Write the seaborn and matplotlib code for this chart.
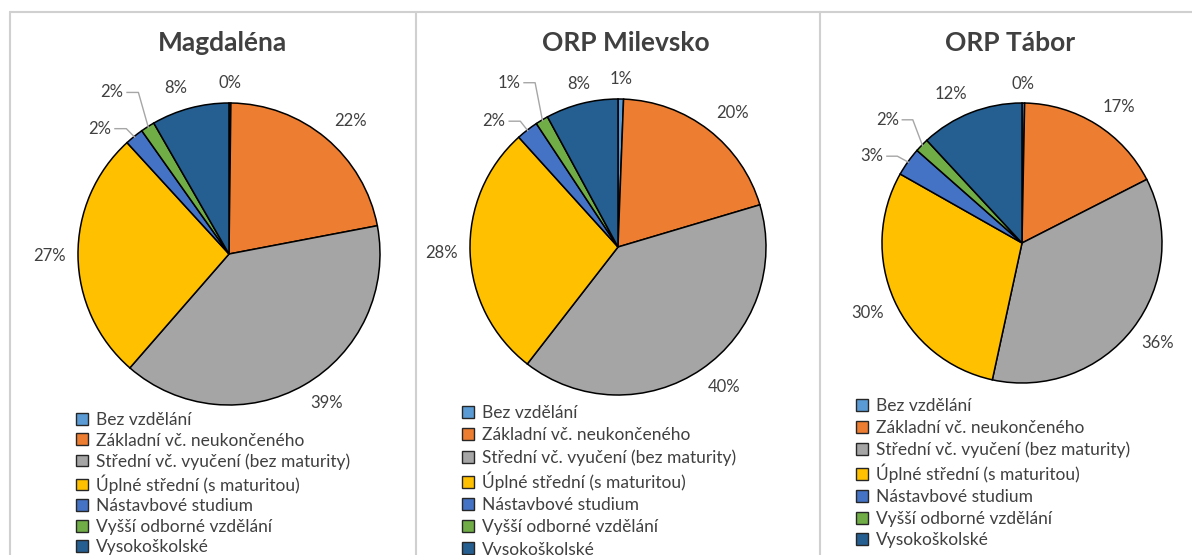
import numpy as np
import matplotlib
matplotlib.use("Agg")
import matplotlib.pyplot as plt
import seaborn as sns
from matplotlib.patches import Patch
from matplotlib.lines import Line2D

# data (percent of population by education)
categories = [
    "Bez vzdělání",
    "Základní vč. neukončeného",
    "Střední vč. vyučení (bez maturity)",
    "Úplné střední (s maturitou)",
    "Nástavbové studium",
    "Vyšší odborné vzdělání",
    "Vysokoškolské",
]
regions = ["Magdaléna", "ORP Milevsko", "ORP Tábor"]
magdalena = [0.2, 21.8, 39.4, 26.8, 2.0, 1.5, 8.3]
milevsko = [0.6, 19.8, 40.1, 27.8, 2.4, 1.4, 7.9]
tabor = [0.3, 17.2, 35.9, 29.8, 3.3, 1.6, 11.9]
series = [magdalena, milevsko, tabor]

colors = ["#5B9BD5", "#ED7D31", "#A5A5A5", "#FFC000", "#4472C4", "#70AD47", "#255E91"]
text_col = "#404040"

sns.set_theme(style="white")
plt.rcParams["font.family"] = ["Lato", "DejaVu Sans"]

W, H = 1192, 555
fig = plt.figure(figsize=(W / 100, H / 100), dpi=100)

# layout in pixels: pie centre, radius, title x, legend corner
layout = [
    dict(cx=229, cy=254, r=151, tx=222, lx=76, ly=412, sp=0.26),
    dict(cx=618, cy=247, r=148, tx=626, lx=462, ly=405, sp=0.35),
    dict(cx=1022, cy=243, r=140, tx=1010, lx=856, ly=398, sp=0.33),
]
# small slices labelled with a leader line: index -> text right end (radius units)
callouts = [
    {4: (-0.78, 0.83), 5: (-0.70, 1.07)},
    {4: (-0.76, 0.85), 5: (-0.66, 1.11)},
    {4: (-0.99, 0.62), 5: (-0.88, 0.88)},
]

pad = 1.5
for vals, name, lay, calls in zip(series, regions, layout, callouts):
    cx, cy, r = lay["cx"], lay["cy"], lay["r"]
    ax = fig.add_axes([(cx - pad * r) / W, (H - cy - pad * r) / H,
                       2 * pad * r / W, 2 * pad * r / H])
    ax.pie(vals, colors=colors, startangle=90, counterclock=False,
           wedgeprops=dict(edgecolor="black", linewidth=1.1))
    ax.set_xlim(-pad, pad)
    ax.set_ylim(-pad, pad)
    ax.axis("off")

    total = sum(vals)
    cum = np.cumsum([0] + list(vals))
    for i, v in enumerate(vals):
        th = 2 * np.pi * (cum[i] + v / 2) / total
        s, c = np.sin(th), np.cos(th)
        lab = f"{int(100 * v / total + 0.5)}%"
        if i in calls:
            tx, ty = calls[i]
            ax.text(tx, ty, lab, ha="right", va="center", fontsize=12, color=text_col)
            ax.plot([tx + 0.02, tx + 0.10, s * 0.99], [ty, ty, c * 0.99],
                    color="#A6A6A6", lw=1, solid_capstyle="butt")
            continue
        ha = "left" if s > 0.25 else ("right" if s < -0.25 else "center")
        va = "bottom" if c > 0.25 else ("top" if c < -0.25 else "center")
        ax.text(1.08 * s, 1.08 * c, lab, ha=ha, va=va, fontsize=12, color=text_col)

    fig.text(lay["tx"] / W, 1 - 43 / H, name, ha="center", va="center",
             fontsize=19, fontweight="bold", color=text_col)

    handles = [Patch(facecolor=col, edgecolor="#262626", linewidth=1) for col in colors]
    fig.legend(handles, categories, loc="upper left",
               bbox_to_anchor=(lay["lx"] / W, 1 - lay["ly"] / H),
               bbox_transform=fig.transFigure, frameon=False, fontsize=12.5,
               handlelength=0.68, handleheight=0.68, handletextpad=0.45,
               labelspacing=lay["sp"], borderpad=0, borderaxespad=0,
               labelcolor=text_col)

# panel borders
border = "#D0D0D0"
fig.add_artist(Line2D([10 / W, 1], [1 - 12 / H] * 2, color=border, lw=1.5,
                      transform=fig.transFigure))
for x in [10, 416, 820]:
    fig.add_artist(Line2D([x / W] * 2, [0, 1 - 12 / H], color=border, lw=1.5,
                          transform=fig.transFigure))

fig.savefig("out.png", dpi=100, facecolor="white")
